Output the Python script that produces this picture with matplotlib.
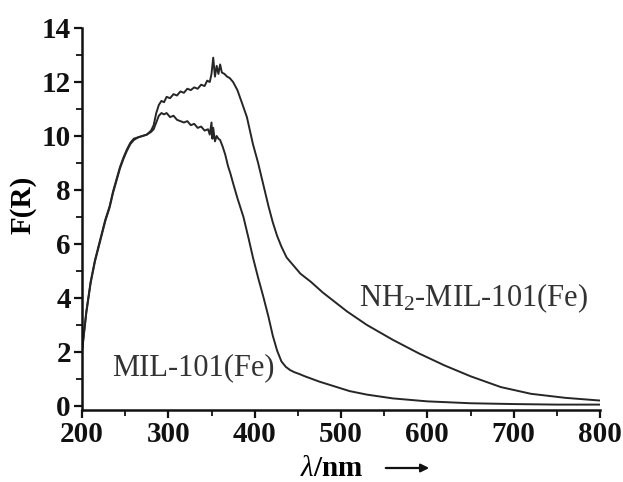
import matplotlib
matplotlib.use("Agg")
import matplotlib.pyplot as plt
from matplotlib.ticker import MultipleLocator

# --- data ---
mil_x = [200, 205, 210, 215, 221, 227, 232, 236, 240, 244, 248, 252, 256, 260, 265, 270, 275, 280, 283, 286,
         289, 292, 295, 298, 302, 306, 310, 314, 318, 322, 326, 330, 334, 338, 342, 346, 348, 350, 351, 352,
         354, 356, 358, 360, 363, 366, 369, 372, 375, 380, 387, 393, 398, 404, 410, 416, 421, 426, 431, 436,
         441, 446, 452, 458, 464, 475, 490, 510, 530, 560, 600, 650, 700, 750, 800]
mil_y = [2.05, 3.5, 4.6, 5.4, 6.15, 6.9, 7.4, 7.95, 8.4, 8.85, 9.2, 9.5, 9.75, 9.9, 9.95, 10.0, 10.05, 10.15, 10.25, 10.5,
         10.75, 10.85, 10.8, 10.85, 10.7, 10.75, 10.6, 10.55, 10.5, 10.55, 10.4, 10.45, 10.3, 10.35, 10.2, 10.25, 10.05, 10.5, 9.9, 10.3,
         9.8, 10.0, 9.9, 9.85, 9.6, 9.3, 8.9, 8.6, 8.25, 7.7, 7.0, 6.2, 5.5, 4.75, 4.05, 3.3, 2.6, 2.05, 1.65, 1.45,
         1.33, 1.25, 1.18, 1.1, 1.03, 0.9, 0.75, 0.55, 0.42, 0.28, 0.17, 0.1, 0.07, 0.05, 0.05]

nh2_x = [200, 205, 210, 215, 221, 227, 232, 236, 240, 244, 248, 252, 256, 260, 265, 270, 275, 280, 283, 286,
         289, 292, 295, 298, 302, 306, 310, 314, 318, 322, 326, 330, 334, 338, 342, 345, 348, 350, 352, 354,
         356, 358, 360, 362, 365, 368, 371, 375, 380, 385, 391, 398, 404, 410, 416, 421, 426, 431, 437, 445,
         453, 465, 479, 493, 507, 530, 560, 590, 620, 650, 685, 720, 760, 800]
nh2_y = [2.0, 3.45, 4.55, 5.35, 6.1, 6.85, 7.35, 7.9, 8.35, 8.8, 9.15, 9.45, 9.7, 9.85, 9.95, 10.0, 10.05, 10.2, 10.4, 10.85,
         11.15, 11.3, 11.25, 11.45, 11.4, 11.55, 11.5, 11.65, 11.6, 11.75, 11.7, 11.8, 11.75, 11.9, 11.85, 12.05, 12.0, 12.3, 12.9, 12.2,
         12.6, 12.3, 12.65, 12.35, 12.3, 12.2, 12.15, 12.0, 11.7, 11.25, 10.7, 9.7, 9.0, 8.2, 7.4, 6.8, 6.3, 5.9, 5.5, 5.2,
         4.9, 4.6, 4.2, 3.85, 3.5, 3.0, 2.45, 1.95, 1.5, 1.1, 0.7, 0.45, 0.3, 0.2]

x_ticks = [200, 300, 400, 500, 600, 700, 800]
y_ticks = [0, 2, 4, 6, 8, 10, 12, 14]
label_mil = "MIL-101(Fe)"
label_nh2 = "NH$_2$-MIL-101(Fe)"

plt.rcParams['font.family'] = ['Liberation Serif', 'DejaVu Serif']
plt.rcParams['mathtext.fontset'] = 'custom'
plt.rcParams['mathtext.rm'] = 'Liberation Serif'
plt.rcParams['mathtext.it'] = 'Liberation Serif:italic'
plt.rcParams['mathtext.bf'] = 'Liberation Serif:bold'

W, H = 623, 482
fig = plt.figure(figsize=(W / 100, H / 100), dpi=100)
ax = fig.add_axes([82 / W, 1 - 410 / H, (600 - 82) / W, (410 - 28) / H])

line_col = '#262626'
ax.plot(mil_x, mil_y, color=line_col, lw=1.4)
ax.plot(nh2_x, nh2_y, color=line_col, lw=1.4)

ax.set_xlim(200, 800)
ax.set_ylim(-0.15, 14)
ax.set_xticks(x_ticks)
ax.set_yticks(y_ticks)
ax.xaxis.set_minor_locator(MultipleLocator(50))
ax.yaxis.set_minor_locator(MultipleLocator(1))

for s in ['top', 'right']:
    ax.spines[s].set_visible(False)
for s in ['left', 'bottom']:
    ax.spines[s].set_linewidth(1.8)
    ax.spines[s].set_color('#111111')

ax.tick_params(which='major', direction='out', length=6, width=1.6, pad=2, labelsize=21, colors='#111111')
ax.tick_params(which='minor', direction='out', length=4, width=1.3, colors='#111111')
for t in ax.get_xticklabels() + ax.get_yticklabels():
    t.set_fontweight('bold')

ax.set_ylabel("F(R)", fontsize=21, fontweight='bold')
ax.yaxis.set_label_coords(-0.087, 0.537)

ax.text(329, 1.4, label_mil, fontsize=22, ha='center', va='center', color='#333333')
ax.text(653, 4.0, label_nh2, fontsize=22, ha='center', va='center', color='#333333')

fig.text(332 / W, 1 - 468 / H, r"$\mathit{\lambda}$/nm", fontsize=21, fontweight='bold', ha='center', va='center')
fig.add_artist(matplotlib.patches.FancyArrowPatch((383 / W, 1 - 468 / H), (432 / W, 1 - 468 / H),
                                                  transform=fig.transFigure, arrowstyle='-|>', mutation_scale=12,
                                                  lw=1.6, color='#111111'))

fig.savefig("out.png", dpi=100)
